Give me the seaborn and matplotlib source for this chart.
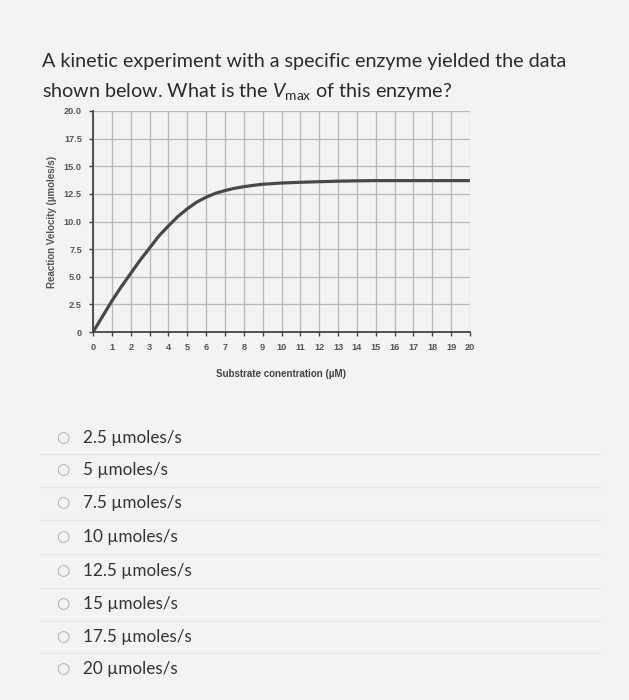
import matplotlib
matplotlib.use("Agg")
import matplotlib.pyplot as plt
import seaborn as sns
import pandas as pd

# curve
substrate = [0, 0.5, 1, 1.5, 2, 2.5, 3, 3.5, 4, 4.5, 5, 5.5, 6, 6.5, 7, 7.5, 8, 8.5, 9, 10, 11, 12, 13, 14, 15, 16, 17, 18, 19, 20]
velocity = [0, 1.4, 2.8, 4.1, 5.3, 6.5, 7.6, 8.7, 9.6, 10.45, 11.15, 11.75, 12.2, 12.55, 12.8, 13.0, 13.15, 13.27, 13.37, 13.48, 13.55, 13.6, 13.65, 13.68, 13.7, 13.7, 13.7, 13.7, 13.7, 13.7]
x_ticks = list(range(0, 21))
y_ticks = [0, 2.5, 5, 7.5, 10, 12.5, 15, 17.5, 20]
y_tick_labels = ["0", "2.5", "5.0", "7.5", "10.0", "12.5", "15.0", "17.5", "20.0"]
options = ["2.5 µmoles/s", "5 µmoles/s", "7.5 µmoles/s", "10 µmoles/s",
           "12.5 µmoles/s", "15 µmoles/s", "17.5 µmoles/s", "20 µmoles/s"]

bg = "#f2f3f3"
sns.set_theme(style="whitegrid")
plt.rcParams["font.family"] = ["Liberation Sans", "DejaVu Sans"]
plt.rcParams["mathtext.fontset"] = "custom"
plt.rcParams["mathtext.rm"] = "Lato"
plt.rcParams["mathtext.it"] = "Lato:italic"

W, H = 629, 700
fig = plt.figure(figsize=(W / 100, H / 100), dpi=100, facecolor=bg)

# question text
q_font = dict(family=["Lato", "DejaVu Sans"], color="#2b2b2b", fontsize=14.2)
fig.text(42 / W, 1 - 62 / H, "A kinetic experiment with a specific enzyme yielded the data", va="center", **q_font)
fig.text(42 / W, 1 - 92 / H, r"shown below. What is the $V_{\mathrm{max}}$ of this enzyme?", va="center", **q_font)

ax = fig.add_axes([93 / W, 1 - 332 / H, (470 - 93) / W, (332 - 111) / H])
ax.set_facecolor(bg)
df = pd.DataFrame({"x": substrate, "y": velocity})
sns.lineplot(data=df, x="x", y="y", ax=ax, color="#484848", linewidth=2.3)

ax.set_xlim(0, 20)
ax.set_ylim(0, 20)
ax.set_xticks(x_ticks)
ax.set_xticklabels([str(t) for t in x_ticks])
ax.set_yticks(y_ticks)
ax.set_yticklabels(y_tick_labels)
ax.grid(True, color="#b9b9b9", linewidth=0.9)
for s in ["top", "right"]:
    ax.spines[s].set_visible(False)
for s in ["left", "bottom"]:
    ax.spines[s].set_color("#444444")
    ax.spines[s].set_linewidth(1.3)
ax.tick_params(axis="both", which="both", length=3, width=1, color="#444444",
               labelsize=6.6, labelcolor="#555555", pad=5, direction="out",
               bottom=True, left=True)
for lab in ax.get_xticklabels() + ax.get_yticklabels():
    lab.set_fontweight("bold")
ax.set_xlabel("Substrate conentration (µM)", fontsize=7, fontweight="bold", color="#444444", labelpad=12)
ax.set_ylabel("Reaction Velocity (µmoles/s)", fontsize=7, fontweight="bold", color="#555555", labelpad=5)

# answer options
opt_y = [438, 470, 503, 537, 571, 604, 637, 669]
for i, (label, yy) in enumerate(zip(options, opt_y)):
    fig.text(63 / W, 1 - yy / H, "○", family=["DejaVu Sans"], fontsize=11, color="#a8a8a8",
             ha="center", va="center")
    fig.text(83 / W, 1 - yy / H, label, family=["Lato", "DejaVu Sans"], fontsize=12.3,
             color="#333333", va="center")
    if i < len(options) - 1:
        ly = 1 - (yy + (opt_y[i + 1] - yy) / 2) / H
        fig.add_artist(plt.Line2D([40 / W, 600 / W], [ly, ly], color="#e4e5e5", linewidth=0.8))

fig.savefig("out.png", dpi=100, facecolor=bg)
